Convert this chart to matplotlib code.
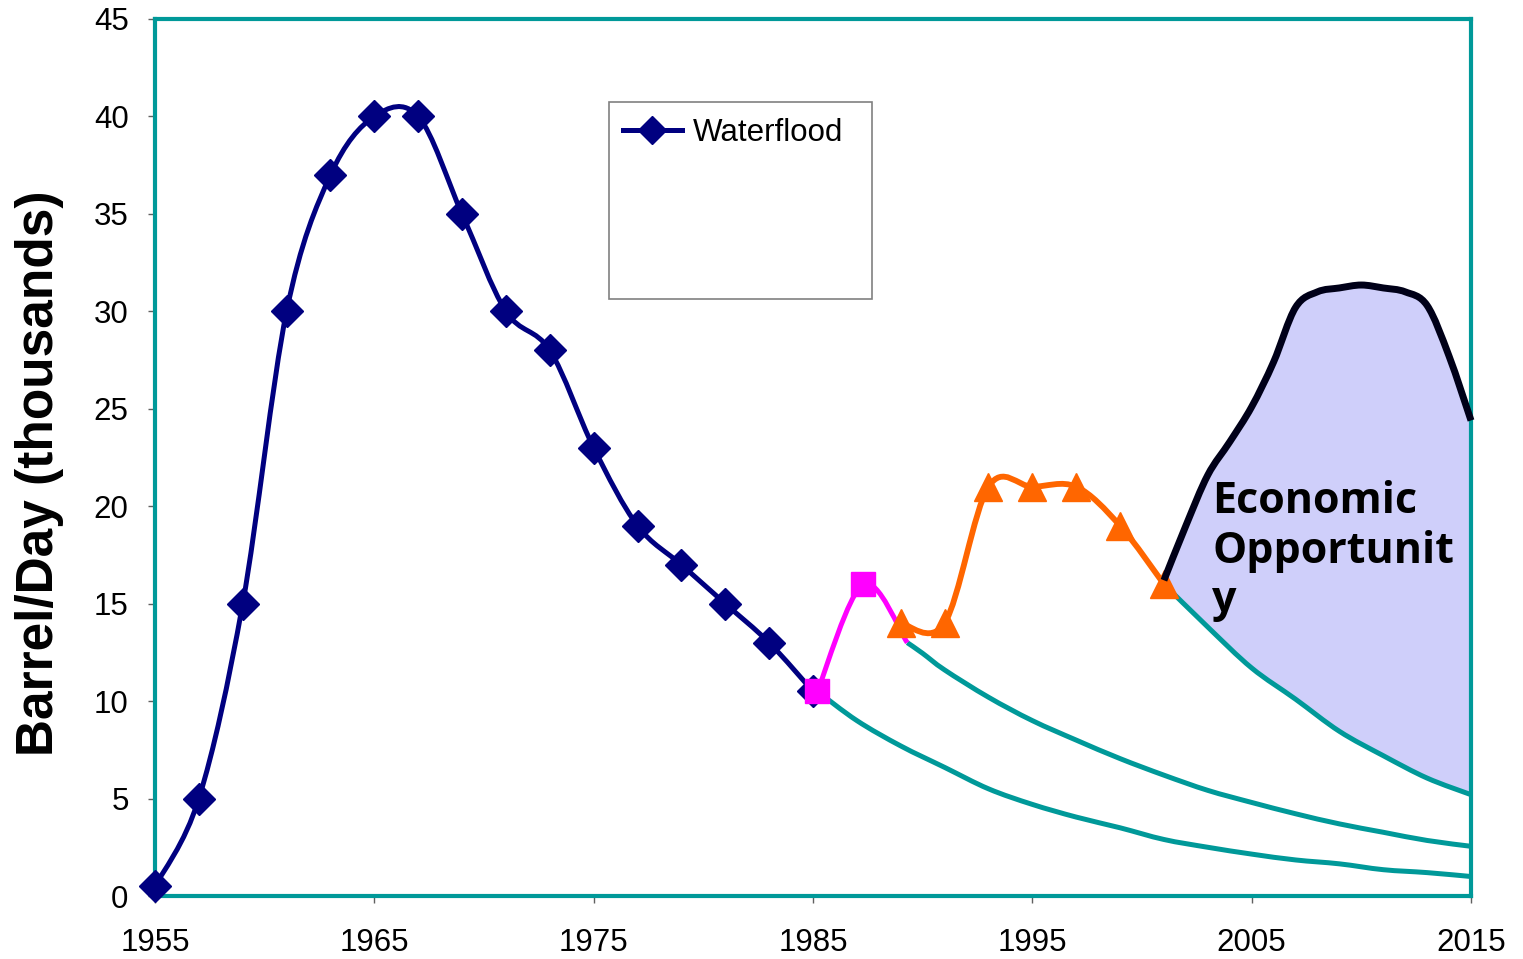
import numpy as np
import matplotlib.pyplot as plt
from matplotlib.path import Path
from matplotlib.patches import PathPatch, Rectangle
from matplotlib.lines import Line2D

# ---- data (thousand barrels per day) ----
wf_years = [1955, 1957, 1959, 1961, 1963, 1965, 1967, 1969, 1971, 1973, 1975, 1977, 1979, 1981, 1983, 1985]
wf_vals = [0.5, 5, 15, 30, 37, 40, 40, 35, 30, 28, 23, 19, 17, 15, 13, 10.5]

stim_years = [1985.2, 1987.3, 1989.3]
stim_vals = [10.5, 16, 13.0]

infill_years = [1989, 1991, 1993, 1995, 1997, 1999, 2001]
infill_vals = [14, 14, 21, 21, 21, 19, 16]

dec1_years = [1985.2, 1987, 1989, 1991, 1993, 1995, 1997, 1999, 2001, 2003, 2005, 2007, 2009, 2011, 2013, 2015]
dec1_vals = [10.5, 9.0, 7.7, 6.6, 5.5, 4.7, 4.05, 3.5, 2.9, 2.5, 2.15, 1.85, 1.65, 1.35, 1.2, 1.0]

dec2_years = [1989.3, 1990, 1991, 1993, 1995, 1997, 1999, 2001, 2003, 2005, 2007, 2009, 2011, 2013, 2015]
dec2_vals = [13.0, 12.45, 11.6, 10.2, 9.0, 8.0, 7.05, 6.2, 5.42, 4.8, 4.22, 3.7, 3.27, 2.85, 2.55]

dec3_years = [2001, 2003, 2005, 2007, 2009, 2011, 2013, 2015]
dec3_vals = [16.0, 13.8, 11.7, 10.1, 8.45, 7.2, 6.05, 5.2]

opp_years = [2001, 2002, 2003, 2004, 2005, 2006, 2007, 2008, 2009, 2010, 2011, 2012, 2013, 2014, 2015]
opp_vals = [16.2, 19.0, 21.6, 23.3, 25.1, 27.4, 30.2, 31.0, 31.2, 31.35, 31.2, 31.0, 30.3, 27.7, 24.4]

NAVY = '#000080'
TEAL = '#009999'
MAGENTA = '#FF00FF'
ORANGE = '#FF6600'


def smooth_verts(x, y):
    # cubic bezier control points through every data point (catmull-rom style)
    pts = np.column_stack([x, y]).astype(float)
    n = len(pts)
    verts = [pts[0]]
    for i in range(n - 1):
        p0 = pts[i - 1] if i > 0 else pts[i]
        p1, p2 = pts[i], pts[i + 1]
        p3 = pts[i + 2] if i + 2 < n else pts[i + 1]
        verts += [p1 + (p2 - p0) / 6.0, p2 - (p3 - p1) / 6.0, p2]
    return np.array(verts)


def smooth_line(ax, x, y, color, lw, zorder=3):
    verts = smooth_verts(x, y)
    codes = [Path.MOVETO] + [Path.CURVE4] * (len(verts) - 1)
    patch = PathPatch(Path(verts, codes), facecolor='none', edgecolor=color,
                      lw=lw, capstyle='butt', joinstyle='round', zorder=zorder, clip_on=False)
    ax.add_patch(patch)
    return verts


plt.rcParams['font.family'] = ['Liberation Sans', 'DejaVu Sans']

fig = plt.figure(figsize=(15.23, 9.59), dpi=100)
ax = fig.add_axes([155 / 1523, 1 - 896 / 959, 1316 / 1523, 877 / 959])
ax.set_xlim(1955, 2015)
ax.set_ylim(0, 45)

# shaded opportunity between upside curve and base decline
top = smooth_verts(opp_years, opp_vals)
bot = smooth_verts(dec3_years, dec3_vals)[::-1]
fill_verts = np.vstack([top, bot, top[:1]])
fill_codes = ([Path.MOVETO] + [Path.CURVE4] * (len(top) - 1) + [Path.LINETO]
              + [Path.CURVE4] * (len(bot) - 1) + [Path.CLOSEPOLY])
ax.add_patch(PathPatch(Path(fill_verts, fill_codes), facecolor='#CFCFFA',
                       edgecolor='none', zorder=1))

# decline curves
smooth_line(ax, dec1_years, dec1_vals, TEAL, 3.6)
smooth_line(ax, dec2_years, dec2_vals, TEAL, 3.6)
smooth_line(ax, dec3_years, dec3_vals, TEAL, 3.6)

# historical segments
smooth_line(ax, wf_years, wf_vals, NAVY, 3.6, zorder=4)
ax.plot(wf_years, wf_vals, ls='none', marker='D', ms=16, color=NAVY, zorder=5, clip_on=False)

smooth_line(ax, stim_years, stim_vals, MAGENTA, 3.6, zorder=4)
ax.plot(stim_years[:2], stim_vals[:2], ls='none', marker='s', ms=17, color=MAGENTA, zorder=6, clip_on=False)

smooth_line(ax, infill_years, infill_vals, ORANGE, 4.2, zorder=4)
ax.plot(infill_years, infill_vals, ls='none', marker='^', ms=20, color=ORANGE, zorder=5, clip_on=False)

smooth_line(ax, opp_years, opp_vals, '#000018', 5, zorder=5)

ax.text(2003.2, 21.35, 'Economic\nOpportunit\ny', family='Open Sans', fontweight='bold',
        fontsize=31, va='top', ha='left', linespacing=1.2, zorder=7)

# legend with its oversized frame
ax.add_patch(Rectangle((0.345, 0.681), 0.2, 0.224, transform=ax.transAxes,
                       facecolor='white', edgecolor='#808080', lw=1.2, zorder=8))
handle = Line2D([], [], color=NAVY, lw=3.6, marker='D', ms=14)
leg = ax.legend([handle], ['Waterflood'], loc='upper left', bbox_to_anchor=(0.3364, 0.9157),
                frameon=False, fontsize=22.5, handlelength=1.9, handletextpad=0.35, borderpad=0.3)
leg.set_zorder(9)

# frame and axes
for s in ax.spines.values():
    s.set_color(TEAL)
    s.set_linewidth(3)
ax.axhline(0, color='#404040', lw=1.2, zorder=2, clip_on=False)
ax.axvline(1955, color='#404040', lw=1.2, zorder=2, clip_on=False)

ax.set_xticks(np.arange(1955, 2016, 10))
ax.set_yticks(np.arange(0, 46, 5))
ax.tick_params(direction='out', length=5, width=1, color='#606060', labelsize=22.5)
ax.tick_params(axis='x', pad=18)
ax.tick_params(axis='y', pad=14)

fig.text(40 / 1523, 1 - 473 / 959, 'Barrel/Day (thousands)', rotation=90, fontsize=37,
         fontweight='bold', ha='center', va='center')

fig.savefig('out.png', dpi=100)
